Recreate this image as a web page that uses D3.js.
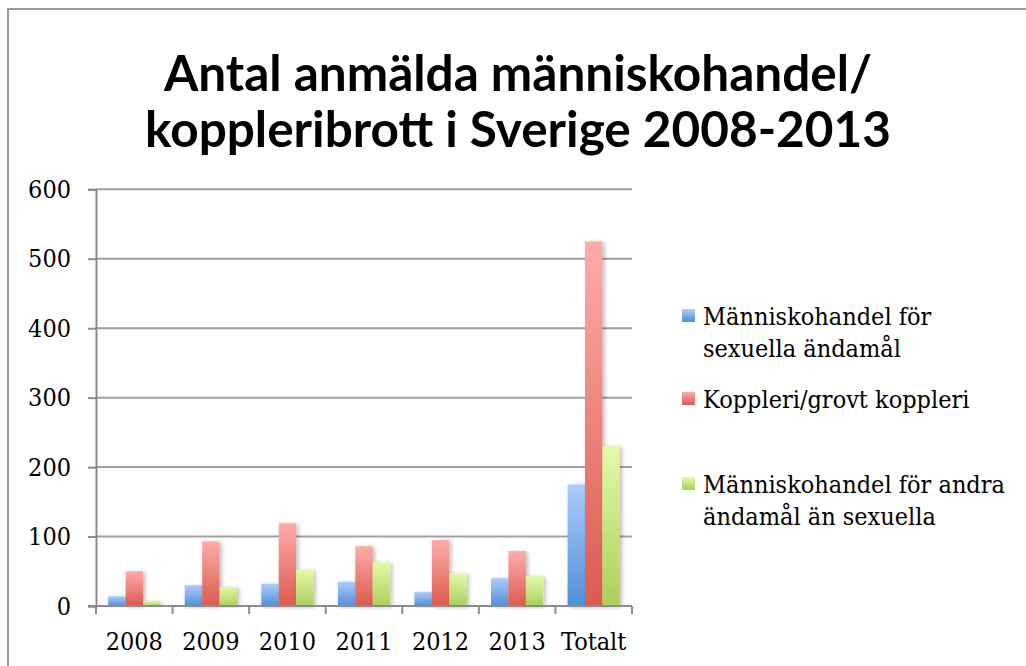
<!DOCTYPE html>
<html>
<head>
<meta charset="utf-8">
<script src="https://cdn.jsdelivr.net/npm/d3@7"></script>
<style>
  body { margin: 0; background: #fff; }
  svg { display: block; }
</style>
</head>
<body>
<svg id="chart" width="1026" height="666"></svg>
<script>
// data
var categories = ["2008", "2009", "2010", "2011", "2012", "2013", "Totalt"]
var series = ["Människohandel för sexuella ändamål", "Koppleri/grovt koppleri", "Människohandel för andra ändamål än sexuella"]
var sexuella = [14, 30, 32, 35, 20, 40, 175]
var koppleri = [50, 93, 119, 86, 95, 79, 525]
var andra = [7, 27, 52, 63, 47, 43, 230]
var yTicks = [0, 100, 200, 300, 400, 500, 600]
var titleLines = ["Antal anmälda människohandel/", "koppleribrott i Sverige 2008-2013"]
var legendLines = [["Människohandel för", "sexuella ändamål"], ["Koppleri/grovt koppleri"], ["Människohandel för andra", "ändamål än sexuella"]]

var values = [sexuella, koppleri, andra]
var rows = []
for (var i = 0; i < categories.length; i++) {
  for (var s = 0; s < series.length; s++) {
    rows.push({cat: categories[i], ser: s, val: values[s][i]})
  }
}

var svg = d3.select("#chart")

// layout
var plotLeft = 96, plotRight = 632
var plotTop = 189.3, plotBottom = 606
var labelFont = "'DejaVu Serif Condensed', 'DejaVu Serif', serif"

var grads = [
  {top: "#acccfb", bot: "#4f8fd8"},
  {top: "#fdacaa", bot: "#db5a4e"},
  {top: "#e3faa8", bot: "#abcf58"}
]

var defs = svg.append("defs")
grads.forEach(function(g, k) {
  var lg = defs.append("linearGradient")
    .attr("id", "grad" + k)
    .attr("x1", 0).attr("y1", 0).attr("x2", 0).attr("y2", 1)
  lg.append("stop").attr("offset", "0%").attr("stop-color", g.top)
  lg.append("stop").attr("offset", "100%").attr("stop-color", g.bot)
})
var filt = defs.append("filter").attr("id", "shadow")
  .attr("x", "-20%").attr("y", "-5%").attr("width", "160%").attr("height", "115%")
filt.append("feDropShadow")
  .attr("dx", 2).attr("dy", 1).attr("stdDeviation", 2)
  .attr("flood-color", "#000").attr("flood-opacity", 0.28)

// outer frame
svg.append("path")
  .attr("d", "M8,680 L8,9 L1040,9")
  .attr("fill", "none")
  .attr("stroke", "#999")
  .attr("stroke-width", 2)

// title
svg.append("g").selectAll("text")
  .data(titleLines)
  .enter()
  .append("text")
    .attr("x", 518)
    .attr("y", function(d, i) { return 91 + i * 56 })
    .attr("text-anchor", "middle")
    .style("font-family", "Lato, 'Open Sans', sans-serif")
    .style("font-weight", 700)
    .style("font-size", "49.5px")
    .style("fill", "#000")
    .text(function(d) { return d })

// scales
var x0 = d3.scaleBand()
  .domain(categories)
  .range([plotLeft, plotRight])
  .paddingInner(0)

var x1 = d3.scaleBand()
  .domain(d3.range(series.length))
  .range([0, x0.bandwidth()])
  .paddingInner(0)
  .paddingOuter(0.7)

var y = d3.scaleLinear()
  .domain([0, 600])
  .range([plotBottom, plotTop])

// gridlines
svg.append("g").selectAll("line")
  .data(yTicks.slice(1))
  .enter()
  .append("line")
    .attr("x1", plotLeft).attr("x2", plotRight)
    .attr("y1", function(d) { return y(d) })
    .attr("y2", function(d) { return y(d) })
    .attr("stroke", "#a0a0a0")
    .attr("stroke-width", 2)

// bars
svg.append("g").selectAll("rect")
  .data(rows)
  .enter()
  .append("rect")
    .attr("x", function(d) { return x0(d.cat) + x1(d.ser) })
    .attr("width", x1.bandwidth())
    .attr("y", function(d) { return y(d.val) })
    .attr("height", function(d) { return y(0) - y(d.val) })
    .attr("fill", function(d) { return "url(#grad" + d.ser + ")" })
    .attr("filter", "url(#shadow)")

// y axis
var yAxis = svg.append("g")
  .attr("transform", "translate(" + plotLeft + ",0)")
  .call(d3.axisLeft(y).tickValues(yTicks).tickSize(8).tickPadding(17).tickFormat(d3.format("d")))
yAxis.select(".domain").attr("stroke", "#8c8c8c").attr("stroke-width", 2)
yAxis.selectAll(".tick line").attr("stroke", "#8c8c8c").attr("stroke-width", 2)
yAxis.selectAll("text")
  .style("font-family", labelFont)
  .style("font-size", "25px")
  .attr("fill", "#000")

// x axis: ticks on category boundaries
var xAxis = svg.append("g")
  .attr("transform", "translate(0," + plotBottom + ")")
xAxis.append("line")
  .attr("x1", plotLeft - 8).attr("x2", plotRight)
  .attr("stroke", "#8c8c8c").attr("stroke-width", 2)
xAxis.selectAll(".bnd")
  .data(categories.concat(["end"]))
  .enter()
  .append("line")
    .attr("class", "bnd")
    .attr("x1", function(d, i) { return plotLeft + i * x0.step() })
    .attr("x2", function(d, i) { return plotLeft + i * x0.step() })
    .attr("y1", 0).attr("y2", 8)
    .attr("stroke", "#8c8c8c").attr("stroke-width", 2)
xAxis.selectAll("text")
  .data(categories)
  .enter()
  .append("text")
    .attr("x", function(d) { return x0(d) + x0.bandwidth() / 2 })
    .attr("y", 44)
    .attr("text-anchor", "middle")
    .style("font-family", labelFont)
    .style("font-size", "25px")
    .style("fill", "#000")
    .text(function(d) { return d })

// legend
var legendY = [325, 408, 493]
var leg = svg.append("g").selectAll("g")
  .data(series)
  .enter()
  .append("g")
    .attr("transform", function(d, i) { return "translate(682," + legendY[i] + ")" })

leg.append("rect")
  .attr("x", 0).attr("y", -16)
  .attr("width", 13).attr("height", 13)
  .attr("fill", function(d, i) { return "url(#grad" + i + ")" })

leg.append("text")
  .attr("x", 21)
  .style("font-family", labelFont)
  .style("font-size", "25px")
  .style("fill", "#000")
  .selectAll("tspan")
  .data(function(d, i) { return legendLines[i] })
  .enter()
  .append("tspan")
    .attr("x", 21)
    .attr("dy", function(d, j) { return j === 0 ? 0 : 32 })
    .text(function(d) { return d })
</script>
</body>
</html>
